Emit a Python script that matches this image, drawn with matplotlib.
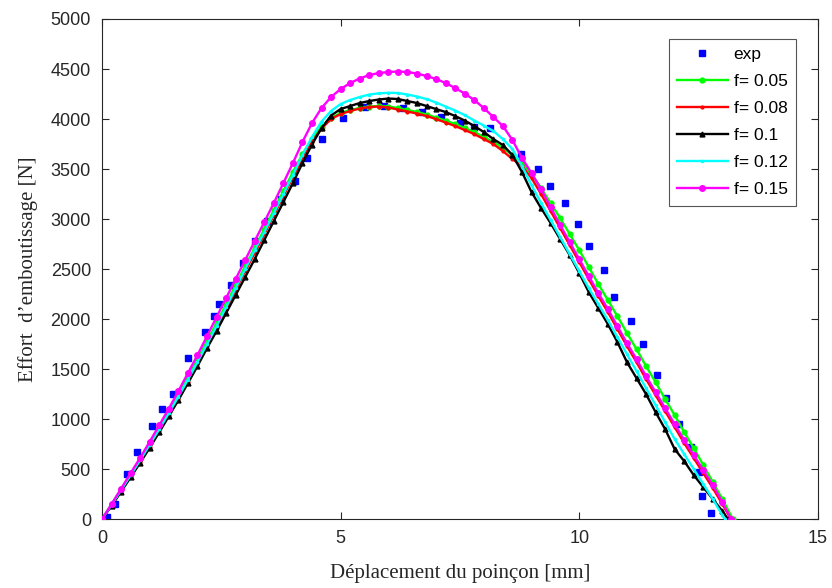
import matplotlib
matplotlib.use("Agg")
import matplotlib.pyplot as plt

# x grid of simulated curves (mm)
x_sim = [0.0, 0.2, 0.4, 0.6, 0.8, 1.0, 1.2, 1.4, 1.6, 1.8, 2.0, 2.2, 2.4, 2.6, 2.8,
         3.0, 3.2, 3.4, 3.6, 3.8, 4.0, 4.2, 4.4, 4.6, 4.8, 5.0, 5.2, 5.4, 5.6, 5.8,
         6.0, 6.2, 6.4, 6.6, 6.8, 7.0, 7.2, 7.4, 7.6, 7.8, 8.0, 8.2, 8.4, 8.6, 8.8,
         9.0, 9.2, 9.4, 9.6, 9.8, 10.0, 10.2, 10.4, 10.6, 10.8, 11.0, 11.2, 11.4,
         11.6, 11.8, 12.0, 12.2, 12.4, 12.6, 12.8, 13.0]

y_f005 = [0, 150, 300, 450, 600, 760, 920, 1080, 1250, 1420, 1600, 1780, 1960, 2150, 2340,
          2530, 2710, 2900, 3090, 3280, 3470, 3650, 3800, 3925, 4010, 4060, 4090, 4110, 4125, 4130,
          4125, 4110, 4090, 4070, 4045, 4015, 3985, 3950, 3910, 3870, 3820, 3770, 3710, 3640, 3560,
          3450, 3310, 3160, 3010, 2850, 2690, 2520, 2350, 2190, 2030, 1860, 1700, 1530,
          1370, 1200, 1040, 870, 710, 540, 370, 200]
y_f008 = [0, 140, 285, 430, 575, 725, 880, 1040, 1200, 1370, 1550, 1730, 1910, 2100, 2290,
          2480, 2660, 2850, 3040, 3230, 3420, 3600, 3770, 3905, 4000, 4050, 4080, 4105, 4120, 4125,
          4115, 4095, 4075, 4055, 4030, 4000, 3965, 3930, 3890, 3850, 3800, 3750, 3680, 3600, 3530,
          3410, 3250, 3080, 2910, 2740, 2570, 2400, 2230, 2070, 1900, 1730, 1570, 1400,
          1240, 1080, 920, 760, 610, 460, 310, 150]
y_f010 = [0, 135, 275, 420, 565, 715, 870, 1030, 1190, 1360, 1530, 1710, 1880, 2060, 2240,
          2420, 2600, 2790, 2980, 3170, 3360, 3560, 3745, 3910, 4035, 4100, 4130, 4160, 4180, 4195,
          4205, 4200, 4180, 4160, 4130, 4100, 4070, 4030, 3985, 3930, 3870, 3800, 3740, 3640, 3470,
          3270, 3110, 2960, 2800, 2640, 2460, 2270, 2110, 1950, 1770, 1570, 1410, 1250,
          1070, 900, 700, 580, 440, 320, 200, 80]
y_f012 = [0, 145, 290, 440, 590, 745, 900, 1060, 1225, 1395, 1570, 1750, 1930, 2120, 2310,
          2500, 2690, 2870, 3060, 3250, 3440, 3640, 3820, 3975, 4080, 4150, 4190, 4220, 4245, 4257,
          4262, 4260, 4245, 4225, 4200, 4165, 4125, 4085, 4040, 3985, 3935, 3880, 3800, 3700, 3530,
          3340, 3160, 2990, 2820, 2650, 2480, 2310, 2150, 1990, 1820, 1650, 1480, 1310,
          1140, 970, 800, 650, 500, 350, 200, 40]
y_f015 = [0, 150, 305, 460, 615, 775, 940, 1105, 1280, 1460, 1640, 1830, 2020, 2210, 2400,
          2590, 2780, 2970, 3160, 3360, 3560, 3770, 3960, 4110, 4220, 4300, 4360, 4405, 4440, 4460,
          4470, 4475, 4470, 4455, 4430, 4400, 4360, 4310, 4255, 4190, 4110, 4020, 3930, 3790, 3610,
          3460, 3300, 3120, 2940, 2770, 2600, 2430, 2260, 2100, 1930, 1760, 1600, 1430,
          1270, 1110, 950, 790, 640, 490, 340, 170]

# x where each simulated curve returns to zero (mm)
x_end = {"f005": 13.22, "f008": 13.18, "f010": 13.12, "f012": 13.05, "f015": 13.18}

# experimental points
x_exp = [0.0, 0.1, 0.27, 0.52, 0.73, 1.04, 1.25, 1.48, 1.81, 2.16, 2.35, 2.46, 2.70,
         2.95, 3.2, 3.45, 3.75, 4.04, 4.29, 4.62, 5.06, 5.51, 5.9, 6.3, 6.7, 7.1, 7.5,
         7.8, 8.14, 8.79, 9.14, 9.39, 9.71, 9.97, 10.21, 10.52, 10.73, 11.08, 11.34,
         11.62, 11.81, 12.09, 12.35, 12.5, 12.58, 12.76]
y_exp = [0, 20, 150, 450, 670, 930, 1100, 1250, 1613, 1873, 2033, 2150, 2340,
         2560, 2780, 2980, 3200, 3380, 3607, 3797, 4007, 4120, 4130, 4110, 4070, 4020, 3960,
         3920, 3907, 3650, 3500, 3330, 3157, 2950, 2730, 2490, 2223, 1980, 1747,
         1440, 1207, 947, 717, 470, 233, 63]

x_ticks = [0, 5, 10, 15]
y_ticks = [0, 500, 1000, 1500, 2000, 2500, 3000, 3500, 4000, 4500, 5000]

fig = plt.figure(figsize=(8.32, 5.88), dpi=100)
ax = fig.add_axes([0.1226, 0.117, 0.8604, 0.8507])

ax.plot(x_exp, y_exp, linestyle="none", marker="s", markersize=4.5,
        color="#0000ff", label="exp", zorder=2)

series = [
    ("f005", y_f005, "#00ff00", "o", 3.5, "f= 0.05"),
    ("f008", y_f008, "#ff0000", ".", 4.0, "f= 0.08"),
    ("f010", y_f010, "#000000", "^", 3.5, "f= 0.1"),
    ("f012", y_f012, "#00ffff", ".", 3.0, "f= 0.12"),
    ("f015", y_f015, "#ff00ff", "o", 4.0, "f= 0.15"),
]
for key, ys, col, mk, ms, lab in series:
    xs = x_sim + [x_end[key]]
    yy = ys + [0]
    ax.plot(xs, yy, color=col, linewidth=1.7, marker=mk, markersize=ms,
            label=lab, zorder=4)

ax.set_xlim(0, 15)
ax.set_ylim(0, 5000)
ax.set_xticks(x_ticks)
ax.set_yticks(y_ticks)
ax.tick_params(direction="in", top=True, right=True, length=5,
               labelsize=13, colors="#262626", pad=8)
for lab in ax.get_xticklabels() + ax.get_yticklabels():
    lab.set_family("Liberation Sans")
for sp in ax.spines.values():
    sp.set_color("#262626")
    sp.set_linewidth(0.8)

ax.set_xlabel("Déplacement du poinçon [mm]", family="Liberation Serif",
              fontsize=15, color="#262626", labelpad=12)
ax.set_ylabel("Effort  d’emboutissage [N]", family="Liberation Serif",
              fontsize=15, color="#262626", labelpad=9)

leg = ax.legend(loc="upper right", bbox_to_anchor=(0.970, 0.961),
                prop={"family": "Liberation Sans", "size": 12.5},
                fancybox=False, framealpha=1, edgecolor="#555555",
                handlelength=2.9, borderaxespad=0, labelspacing=0.68,
                handletextpad=0.35, borderpad=0.5)
leg.get_frame().set_linewidth(0.8)

fig.savefig("out.png", dpi=100)
